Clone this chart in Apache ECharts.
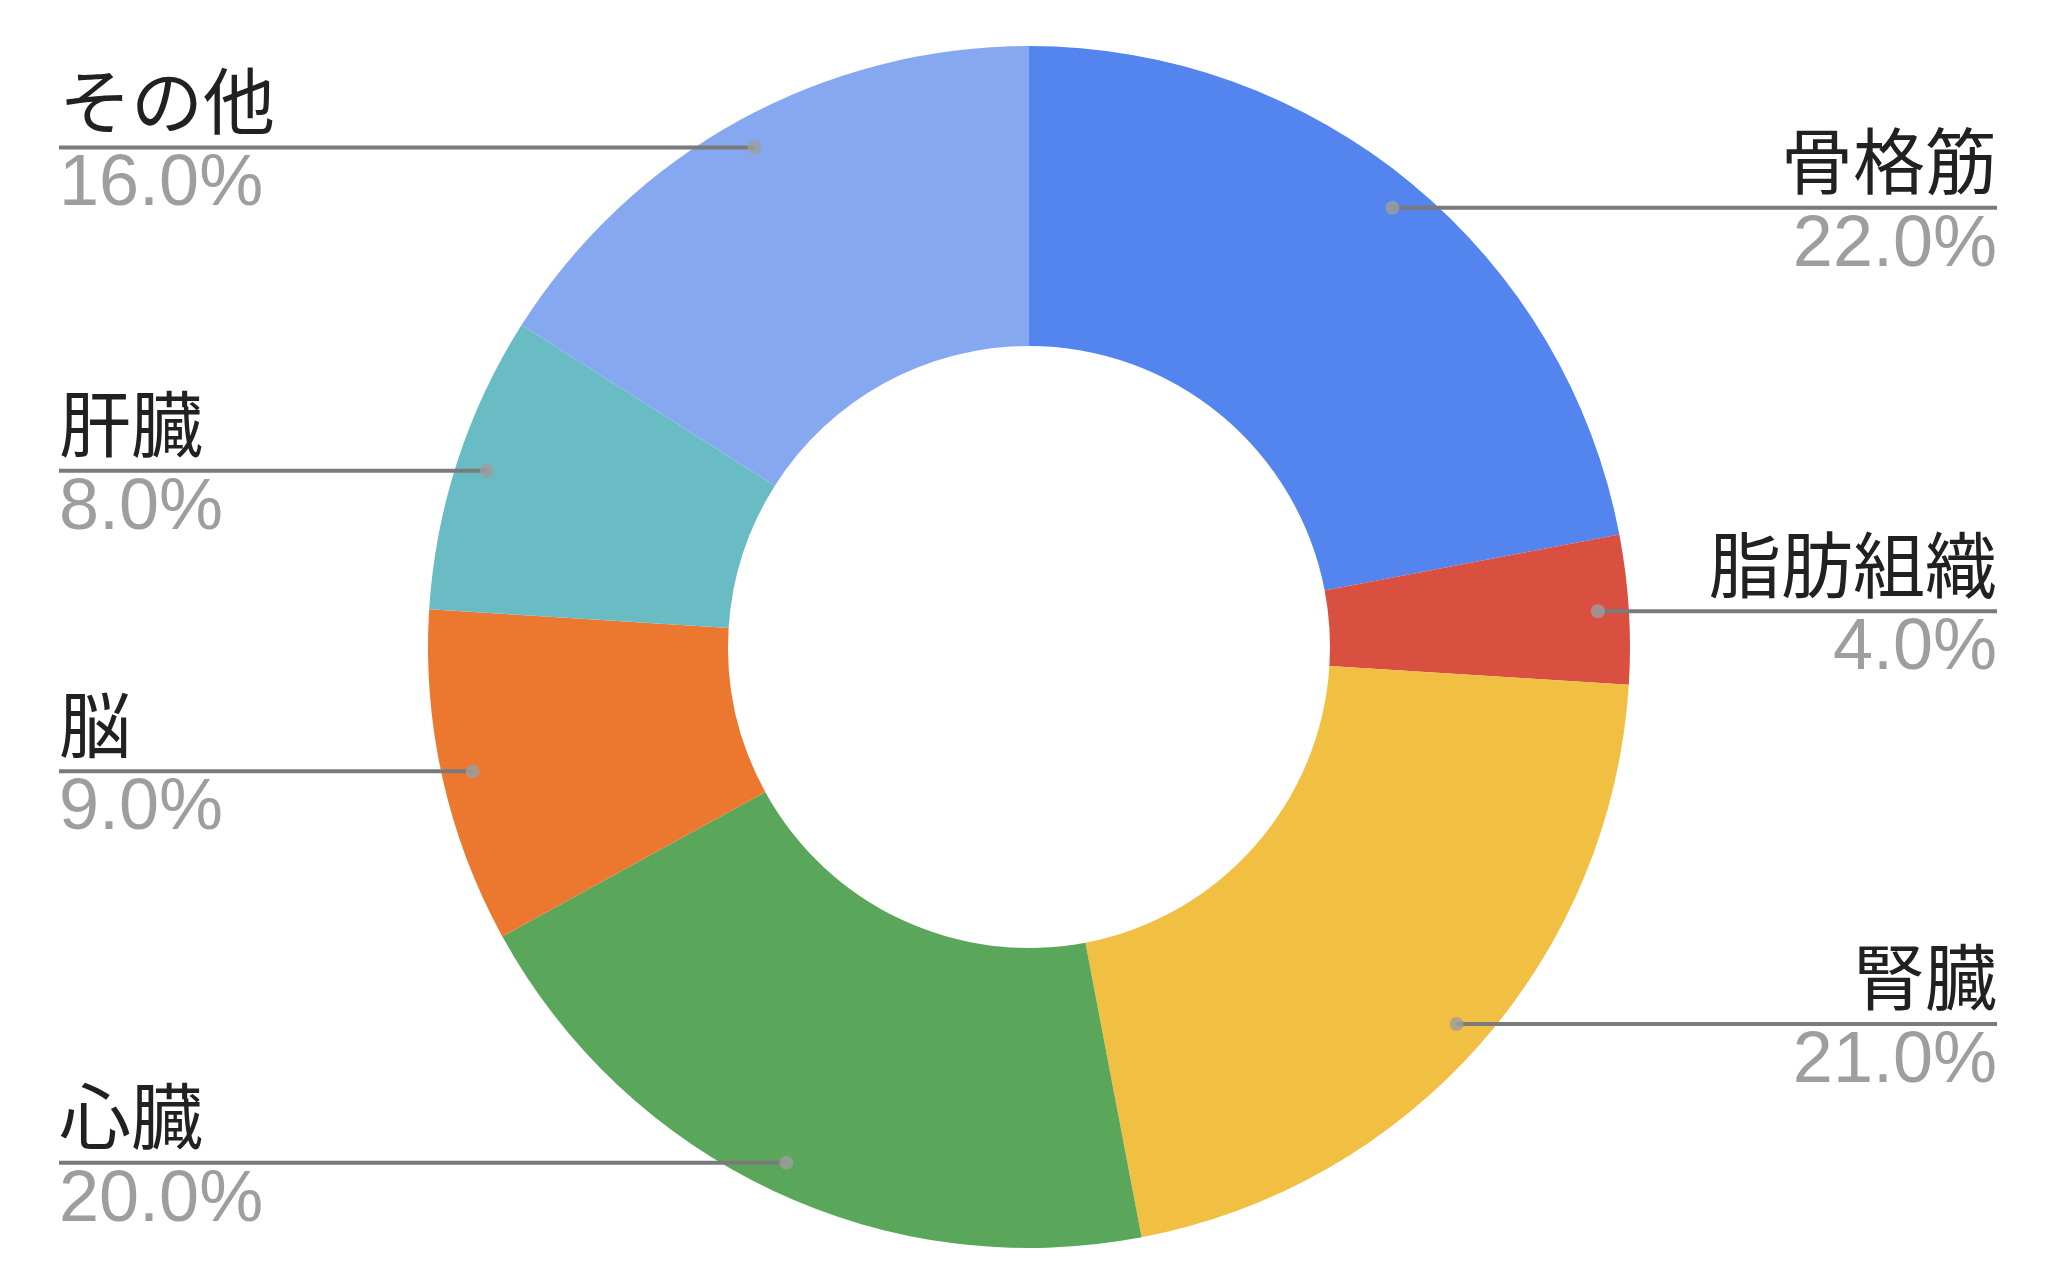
<!DOCTYPE html>
<html><head><meta charset="utf-8">
<script src="https://cdn.jsdelivr.net/npm/echarts@6/dist/echarts.min.js"></script>
<style>html,body{margin:0;padding:0;background:#fff}#c{width:2066px;height:1276px}</style>
</head><body><div id="c"></div>
<script>
const categories = ['骨格筋','脂肪組織','腎臓','心臓','脳','肝臓','その他'];
const values = [22, 4, 21, 20, 9, 8, 16];
const colors = ['#5484ED','#DA5040','#F1BF42','#5AA65B','#EC772F','#69BBC4','#86A8F0'];

const CX = 1029, CY = 647, R_IN = 301, R_OUT = 601, DOT_R = 570;
const LEFT_X = 59, RIGHT_X = 1997;
const total = values.reduce((a, b) => a + b, 0);
const mids = [];
let acc = 0;
values.forEach(v => { mids.push(acc + v / 2); acc += v; });

const pieData = categories.map((n, i) => ({name: n, value: values[i], itemStyle: {color: colors[i]}}));
const labelData = categories.map((n, i) => ({name: n, value: values[i]}));

const chart = echarts.init(document.getElementById('c'), null, {renderer: 'canvas'});
chart.setOption({
  animation: false,
  backgroundColor: '#ffffff',
  polar: {center: [CX, CY], radius: R_OUT},
  angleAxis: {type: 'value', min: 0, max: total, startAngle: 90, clockwise: true, show: false,
    axisLine: {show: false}, axisTick: {show: false}, axisLabel: {show: false}, splitLine: {show: false}},
  radiusAxis: {type: 'value', min: 0, max: R_OUT, show: false,
    axisLine: {show: false}, axisTick: {show: false}, axisLabel: {show: false}, splitLine: {show: false}},
  series: [
    {
      type: 'pie',
      z: 2,
      center: [CX, CY],
      radius: [R_IN, R_OUT],
      startAngle: 90,
      clockwise: true,
      silent: true,
      data: pieData,
      label: {show: false},
      labelLine: {show: false}
    },
    {
      type: 'pie',
      z: 3,
      center: [CX, CY],
      radius: [R_IN, R_OUT],
      startAngle: 90,
      clockwise: true,
      avoidLabelOverlap: false,
      silent: true,
      itemStyle: {color: 'rgba(0,0,0,0)'},
      data: labelData,
      label: {
        show: true,
        position: 'outside',
        formatter: p => '{n|' + p.name + '}\n{v|' + p.value.toFixed(1) + '%}',
        rich: {
          n: {fontFamily: '"Noto Sans CJK JP", sans-serif', fontSize: 72, color: '#212121', lineHeight: 76},
          v: {fontFamily: '"Liberation Sans", Arial, sans-serif', fontSize: 72, color: '#9e9e9e', lineHeight: 94}
        }
      },
      labelLine: {show: true, length: 0, length2: 10, smooth: false, lineStyle: {color: '#7a7a7a', width: 4}},
      labelLayout: function (p) {
        const i = p.dataIndex;
        const th = mids[i] / total * Math.PI * 2;
        const x = CX + DOT_R * Math.sin(th);
        const y = CY - DOT_R * Math.cos(th);
        const right = Math.sin(th) > 0;
        const ex = right ? RIGHT_X : LEFT_X;
        return {
          x: ex, y: y,
          align: right ? 'right' : 'left',
          verticalAlign: 'middle',
          labelLinePoints: [[x, y], [x, y], [ex, y]]
        };
      }
    },
    {
      type: 'scatter',
      coordinateSystem: 'polar',
      silent: true,
      z: 5,
      symbolSize: 14,
      itemStyle: {color: '#9e9e9e'},
      data: mids.map(m => [DOT_R, m])
    }
  ]
});
</script>
</body></html>
